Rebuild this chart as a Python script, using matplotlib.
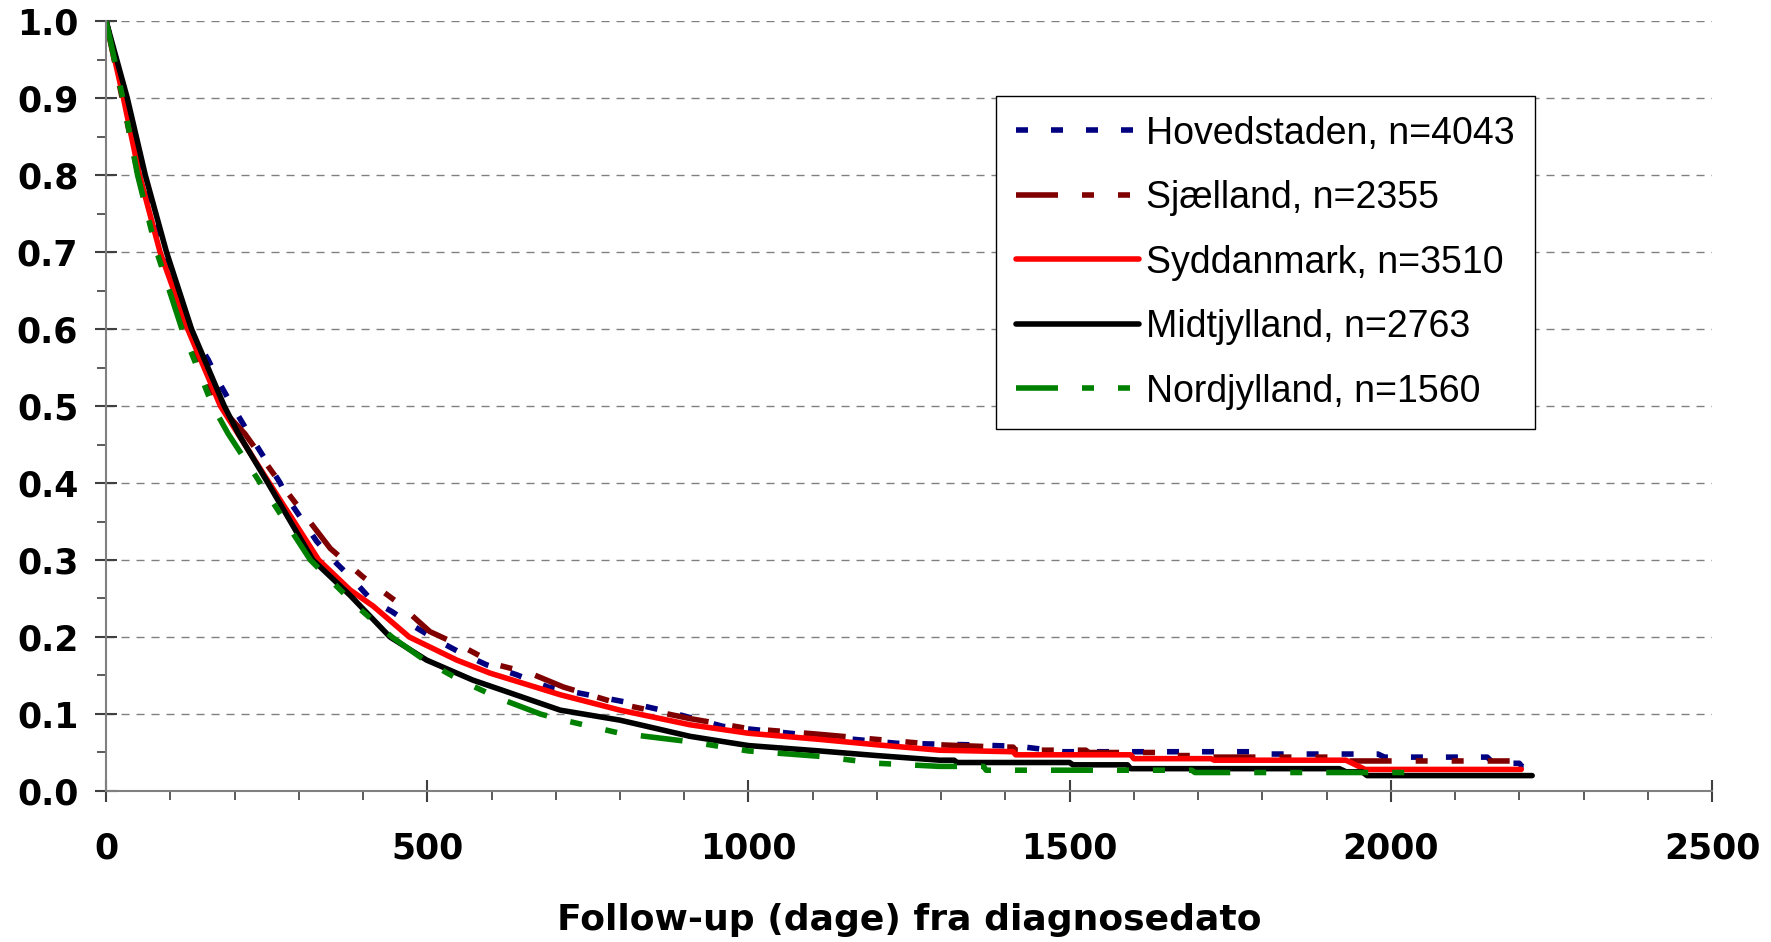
import matplotlib.pyplot as plt
from matplotlib.ticker import MultipleLocator, FormatStrFormatter

# Kaplan-Meier style survival curves per region
hoved_t = [0, 30, 42, 55, 88, 102, 130, 159, 177, 196, 216, 240, 271, 281, 307, 328, 356, 385, 413,
           445, 481, 515, 553, 592, 639, 688, 818, 875, 960, 1100, 1231, 1345, 1420, 1490, 1790, 1800,
           1980, 1990, 2150, 2160, 2200, 2205, 2225]
hoved_s = [1.0, 0.9, 0.843, 0.8, 0.7, 0.659, 0.6, 0.560, 0.529, 0.501, 0.473, 0.441, 0.400, 0.382,
           0.350, 0.324, 0.298, 0.274, 0.248, 0.233, 0.213, 0.196, 0.179, 0.164, 0.151, 0.135, 0.114,
           0.103, 0.084, 0.072, 0.062, 0.060, 0.058, 0.051, 0.051, 0.048, 0.048, 0.044, 0.044, 0.036,
           0.036, 0.031, 0.031]

sjael_t = [0, 25, 50, 80, 122, 176, 216, 271, 349, 400, 452, 504, 556, 608, 660, 712, 800, 909, 1000,
           1105, 1200, 1297, 1392, 1412, 1416, 1525, 1530, 1640, 1645, 1710, 1715, 1925, 1930, 2185]
sjael_s = [1.0, 0.9, 0.8, 0.7, 0.6, 0.5, 0.464, 0.4, 0.315, 0.278, 0.246, 0.207, 0.187, 0.164, 0.153,
           0.135, 0.113, 0.094, 0.081, 0.074, 0.067, 0.060, 0.057, 0.057, 0.053, 0.053, 0.050, 0.050,
           0.046, 0.046, 0.044, 0.044, 0.039, 0.039]

syd_t = [0, 27, 52, 84, 127, 178, 254, 331, 380, 416, 472, 546, 598, 707, 800, 909, 1000, 1111, 1200,
         1297, 1412, 1416, 1595, 1600, 1720, 1725, 1930, 1960, 2203]
syd_s = [1.0, 0.9, 0.8, 0.7, 0.6, 0.5, 0.4, 0.3, 0.261, 0.240, 0.2, 0.170, 0.153, 0.125, 0.105, 0.086,
         0.075, 0.067, 0.060, 0.053, 0.051, 0.047, 0.047, 0.042, 0.042, 0.040, 0.040, 0.028, 0.028]

midt_t = [0, 33, 61, 94, 133, 184, 206, 252, 322, 380, 442, 499, 571, 613, 707, 800, 909, 1000, 1111,
          1200, 1297, 1320, 1325, 1500, 1505, 1590, 1595, 1920, 1930, 1955, 1963, 2220]
midt_s = [1.0, 0.9, 0.8, 0.7, 0.6, 0.5, 0.464, 0.4, 0.3, 0.254, 0.2, 0.170, 0.144, 0.132, 0.105,
          0.092, 0.071, 0.059, 0.052, 0.046, 0.040, 0.040, 0.037, 0.037, 0.034, 0.034, 0.029, 0.029,
          0.025, 0.025, 0.020, 0.020]

nord_t = [0, 26, 49, 79, 118, 166, 190, 240, 318, 390, 445, 499, 551, 613, 676, 707, 800, 909, 1000,
          1111, 1200, 1297, 1366, 1370, 1690, 1695, 2035]
nord_s = [1.0, 0.9, 0.8, 0.7, 0.6, 0.5, 0.464, 0.4, 0.3, 0.240, 0.2, 0.168, 0.144, 0.120, 0.100,
          0.093, 0.075, 0.064, 0.052, 0.045, 0.036, 0.032, 0.032, 0.027, 0.027, 0.024, 0.024]

labels = ['Hovedstaden, n=4043', 'Sjælland, n=2355', 'Syddanmark, n=3510',
          'Midtjylland, n=2763', 'Nordjylland, n=1560']

plt.rcParams['font.family'] = 'DejaVu Sans'
plt.rcParams['font.weight'] = 'bold'

fig = plt.figure(figsize=(17.71, 9.42), dpi=100)
ax = fig.add_axes([0.0599, 0.1603, 0.9068, 0.8174])

lw = 4
dotted = (2.16, 4.14)
dashdotdot = (7.56, 4.32, 2.16, 4.32, 2.16, 4.32)

ax.plot(hoved_t, hoved_s, color='#000080', lw=lw, dashes=dotted, dash_capstyle='butt', label=labels[0])
ax.plot(sjael_t, sjael_s, color='#800000', lw=lw, dashes=dashdotdot, dash_capstyle='butt', label=labels[1])
ax.plot(syd_t, syd_s, color='#ff0000', lw=lw, solid_capstyle='round', label=labels[2])
ax.plot(midt_t, midt_s, color='black', lw=lw, solid_capstyle='round', label=labels[3])
ax.plot(nord_t, nord_s, color='#008000', lw=lw, dashes=dashdotdot, dash_capstyle='butt', label=labels[4])

ax.set_xlim(0, 2500)
ax.set_ylim(0, 1.0)

# ticks
ax.xaxis.set_major_locator(MultipleLocator(500))
ax.xaxis.set_minor_locator(MultipleLocator(100))
ax.yaxis.set_major_locator(MultipleLocator(0.1))
ax.yaxis.set_minor_locator(MultipleLocator(0.05))
ax.yaxis.set_major_formatter(FormatStrFormatter('%.1f'))
ax.tick_params(which='major', direction='inout', length=16, width=1.5, color='#404040', labelsize=25)
ax.tick_params(which='minor', direction='out', length=6.5, width=1.2, color='#404040')
ax.tick_params(axis='y', which='major', pad=12)
ax.tick_params(axis='x', which='major', pad=21)

# horizontal dashed grid only
ax.yaxis.grid(True, linestyle=(0, (5.8, 5)), color='#808080', lw=1)
ax.set_axisbelow(True)

for side in ['top', 'right']:
    ax.spines[side].set_visible(False)
for side in ['left', 'bottom']:
    ax.spines[side].set_color('#808080')
    ax.spines[side].set_linewidth(1.5)

ax.set_xlabel('Follow-up (dage) fra diagnosedato', fontsize=26, fontweight='bold', labelpad=27)

leg = ax.legend(loc='upper left', bbox_to_anchor=(0.554, 0.903),
                prop={'family': 'Liberation Sans', 'size': 27, 'weight': 'normal'},
                frameon=True, fancybox=False, edgecolor='black', framealpha=1,
                handlelength=3.28, handletextpad=0.2, labelspacing=0.76,
                borderpad=0.53, borderaxespad=0)
leg.get_frame().set_linewidth(1.0)

fig.savefig('out.png', dpi=100)
